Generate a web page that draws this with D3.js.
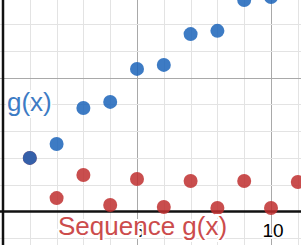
<!DOCTYPE html>
<html>
<head>
<meta charset="utf-8">
<script src="https://cdn.jsdelivr.net/npm/d3@7"></script>
<style>
html,body{margin:0;padding:0;background:#fff;overflow:hidden;}
svg{display:block;}
text{font-family:"Liberation Sans", Arial, sans-serif;}
</style>
</head>
<body>
<svg id="chart" width="301" height="245"></svg>
<script>
// Data
const seqX = [1, 2, 3, 4, 5, 6, 7, 8, 9, 10, 11];
const seqValues = [2, 0.50, 1.36, 0.24, 1.21, 0.17, 1.14, 0.13, 1.14, 0.13, 1.10];
const gX = [1, 2, 3, 4, 5, 6, 7, 8, 9, 10];
const gValues = [2, 2.52, 3.86, 4.09, 5.32, 5.47, 6.62, 6.74, 7.89, 8.0];
const xTickLabels = ["5", "10"];
const xTickValues = [5, 10];

const W = 301, H = 245;
const unit = 26.8;
const x0 = 3, y0 = 211.5;
const x = d3.scaleLinear().domain([-x0 / unit, (W - x0) / unit]).range([0, W]);
const y = d3.scaleLinear().domain([(y0 - H) / unit, y0 / unit]).range([H, 0]);

const svg = d3.select("#chart");

// grid
const xGrid = d3.range(-1, 12);
const yGrid = d3.range(-1, 9);
const grid = svg.append("g");
grid.selectAll("line.vx").data(xGrid.filter(d => d !== 0)).enter().append("line")
  .attr("x1", d => Math.round(x(d)) + 0.5).attr("x2", d => Math.round(x(d)) + 0.5)
  .attr("y1", 0).attr("y2", H)
  .attr("stroke", d => d % 5 === 0 ? "#a9a9a9" : "#e3e3e3").attr("stroke-width", 1);
grid.selectAll("line.hy").data(yGrid.filter(d => d !== 0)).enter().append("line")
  .attr("y1", d => Math.round(y(d)) + 0.5).attr("y2", d => Math.round(y(d)) + 0.5)
  .attr("x1", 0).attr("x2", W)
  .attr("stroke", d => d % 5 === 0 ? "#a9a9a9" : "#e3e3e3").attr("stroke-width", 1);

// axes
svg.append("line").attr("x1", x(0)).attr("x2", x(0)).attr("y1", 0).attr("y2", H)
  .attr("stroke", "#111").attr("stroke-width", 2.5);
svg.append("line").attr("y1", y(0)).attr("y2", y(0)).attr("x1", 0).attr("x2", W)
  .attr("stroke", "#111").attr("stroke-width", 2.5);

// tick labels
svg.selectAll("text.tick").data(xTickValues).enter().append("text")
  .attr("x", d => x(d) + 2).attr("y", 237)
  .attr("text-anchor", "middle")
  .attr("font-size", 19)
  .attr("fill", "#000")
  .attr("stroke", "#fff").attr("stroke-width", 3).attr("paint-order", "stroke")
  .text((d, i) => xTickLabels[i]);

// points
const alpha = 0.85;
svg.append("g").selectAll("circle").data(seqX).enter().append("circle")
  .attr("cx", d => x(d)).attr("cy", (d, i) => y(seqValues[i])).attr("r", 7)
  .attr("fill", "#bf2f2f").attr("fill-opacity", alpha);
svg.append("g").selectAll("circle").data(gX).enter().append("circle")
  .attr("cx", d => x(d)).attr("cy", (d, i) => y(gValues[i])).attr("r", 7)
  .attr("fill", "#1b64ba").attr("fill-opacity", alpha);

// labels
svg.append("text").attr("x", 7).attr("y", 111)
  .attr("font-size", 26).attr("fill", "#3d7bc4")
  .attr("stroke", "#fff").attr("stroke-width", 4).attr("paint-order", "stroke")
  .text("g(x)");
svg.append("text").attr("x", 58).attr("y", 235)
  .attr("font-size", 26).attr("fill", "#cc4c4c")
  .attr("stroke", "#fff").attr("stroke-width", 4).attr("paint-order", "stroke")
  .text("Sequence g(x)");
</script>
</body>
</html>
